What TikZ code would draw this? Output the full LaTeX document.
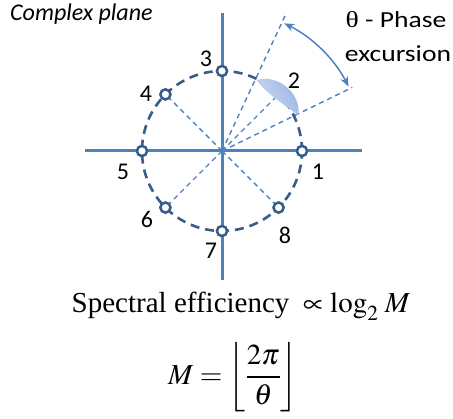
\documentclass[tikz,border=0pt]{standalone}
\usepackage{mathptmx}
\usepackage{fontspec}
\setmainfont{Liberation Serif}
\newfontfamily\calib{Carlito}
\newfontfamily\calibwide[FakeStretch=1.2]{Carlito}
\newfontfamily\thetafont[FakeStretch=1.2]{Liberation Serif}
\usetikzlibrary{arrows.meta,calc}
\definecolor{axisblue}{RGB}{79,129,189}
\definecolor{darkblue}{RGB}{56,93,138}
\definecolor{lobeblue}{RGB}{150,178,226}
\definecolor{lobelight}{RGB}{205,218,242}
\begin{document}
\begin{tikzpicture}[x=1pt,y=1pt,
  axisline/.style={axisblue,line width=3pt},
  ring/.style={darkblue,line width=2.6pt,dash pattern=on 9pt off 6pt},
  ray/.style={axisblue,line width=1.4pt,dash pattern=on 5pt off 4pt},
  pt/.style={circle,draw=darkblue,fill=white,line width=2.4pt,inner sep=0pt,minimum size=10pt},
  lbl/.style={font=\calib\fontsize{24}{28}\selectfont,inner sep=0pt},
  widelbl/.style={font=\calibwide\fontsize{23}{27}\selectfont,inner sep=0pt},
  eq/.style={font=\fontsize{29}{34}\selectfont,inner sep=0pt},
  phasearrow/.style={axisblue,line width=1.5pt,>={Stealth[length=10pt,width=8pt]},<->}]
\useasboundingbox (0,0) rectangle (453,419);
% axes
\coordinate (O) at (222,268);
\coordinate (axL) at (85,268);
\coordinate (axR) at (362,268);
\coordinate (axB) at (222,139);
\coordinate (axT) at (222,406);
\draw[axisline] (axL) -- (axR);
\draw[axisline] (axB) -- (axT);
% constellation points
\node[pt] (p1) at ($(O)+(0:80)$) {};
\coordinate (p2) at ($(O)+(45:78)$);
\node[pt] (p3) at ($(O)+(90:80)$) {};
\node[pt] (p4) at ($(O)+(135:80)$) {};
\node[pt] (p5) at ($(O)+(180:80)$) {};
\node[pt] (p6) at ($(O)+(225:80)$) {};
\node[pt] (p7) at ($(O)+(270:80)$) {};
\node[pt] (p8) at ($(O)+(315:80)$) {};
% rays
\coordinate (e65) at ($(O)+(65:152)$);
\coordinate (e26) at ($(O)+(26:145)$);
\draw[ray] (O) -- (p4.center);
\draw[ray] (O) -- (p6.center);
\draw[ray] (O) -- (p8.center);
\draw[ray] (O) -- (e65);
\draw[ray] (O) -- (e26);
\draw[ray] (O) -- (p2);
% dashed ring
\draw[ring] (O) circle[radius=80];
% lobe
\shade[left color=lobelight,right color=lobeblue,shading angle=120] ($(O)+(64:79)$) .. controls ($(O)+(54:96)$) and ($(O)+(35:98)$) .. ($(O)+(25:84)$)
   .. controls ($(O)+(37:78)$) and ($(O)+(52:72)$) .. ($(O)+(64:79)$) -- cycle;
% redraw point markers on top
\foreach \k in {1,3,4,5,6,7,8}{\node[pt] at (p\k) {};}
% phase excursion arrow
\coordinate (a1) at ($(O)+(64:142)$);
\draw[phasearrow] (a1) arc[start angle=64,end angle=27,radius=142];
% labels
\node[lbl] (n1) at (318,247) {1};
\node[lbl] (n2) at (294,338) {2};
\node[lbl] (n3) at (206,360) {3};
\node[lbl] (n4) at (146,325) {4};
\node[lbl] (n5) at (123,247) {5};
\node[lbl] (n6) at (147,200) {6};
\node[lbl] (n7) at (211,168) {7};
\node[lbl] (n8) at (285,184) {8};
\node[lbl,anchor=base west] (title) at (10,398) {\itshape Complex plane};
\node[widelbl,anchor=base] (theta) at (396,391) {{\thetafont θ} - Phase};
\node[widelbl,anchor=base] (exc) at (398,357) {excursion};
% formulas
\node[eq,anchor=base] (f1) at (241,106) {Spectral efficiency $\;\propto \log_2\, M$};
\node[eq] (f2) at (233,42) {$M = \left\lfloor \displaystyle\frac{2\pi}{\theta} \right\rfloor$};
\end{tikzpicture}
\end{document}
